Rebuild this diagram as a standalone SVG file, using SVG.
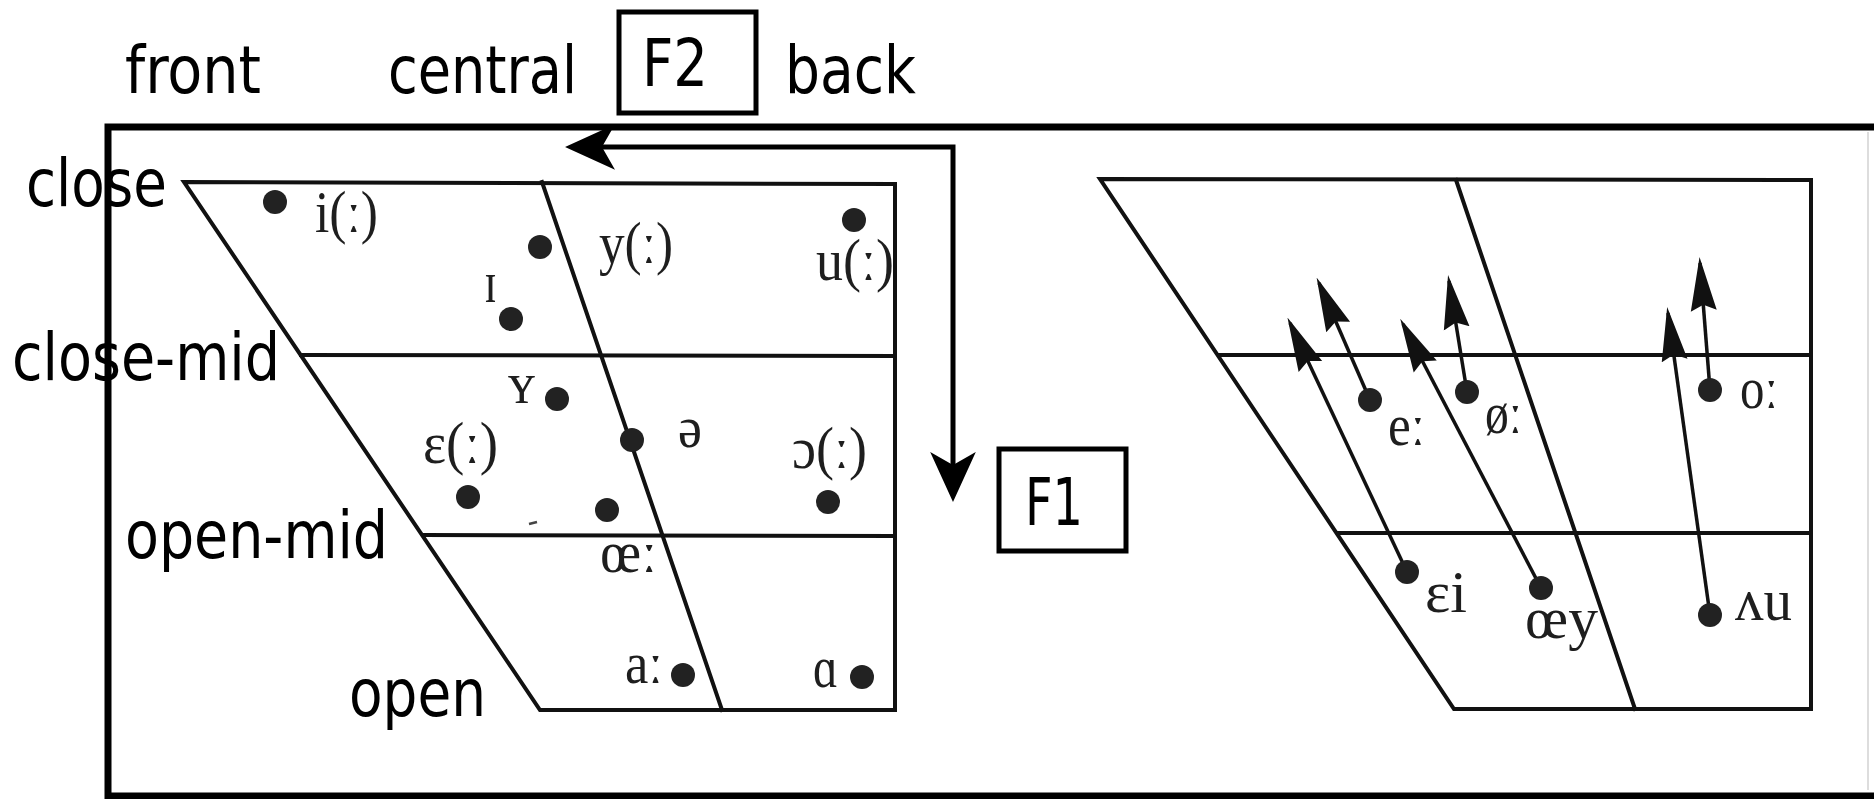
<svg xmlns="http://www.w3.org/2000/svg" width="1874" height="799" viewBox="0 0 1874 799">
<style>
.sans{font-family:"DejaVu Sans Condensed","DejaVu Sans",sans-serif;font-size:65px;fill:#000}
.ipa{font-family:"Liberation Serif","DejaVu Serif",serif;font-size:60px;fill:#1e1e1e}
.grid{stroke:#111;stroke-width:4;fill:none;stroke-linecap:square}
.dot{fill:#222}
.box{fill:none;stroke:#000;stroke-width:5}
.dip{stroke:#111;stroke-width:3.5;fill:none}
.fa{stroke:#000;stroke-width:5;fill:none}
</style>
<defs>
<marker id="big" markerUnits="userSpaceOnUse" markerWidth="50" markerHeight="50" viewBox="0 -22 46 44" refX="12" refY="0" orient="auto-start-reverse">
<path d="M46,0 L0,-21 L12,0 L0,21 Z" fill="#000"/>
</marker>
<marker id="small" markerUnits="userSpaceOnUse" markerWidth="54" markerHeight="30" viewBox="0 -14 54 28" refX="48" refY="0" orient="auto">
<path d="M54,0 L0,-13 L6,0 L0,13 Z" fill="#111"/>
</marker>
</defs>
<rect width="1874" height="799" fill="#fff"/>
<rect x="108" y="127" width="1800" height="669" fill="none" stroke="#000" stroke-width="7"/>
<line x1="1868" y1="132" x2="1868" y2="790" stroke="#ddd" stroke-width="2"/>

<g id="axis-labels">
<text class="sans" x="125" y="93" textLength="136" lengthAdjust="spacingAndGlyphs">front</text>
<text class="sans" x="388" y="93" textLength="189" lengthAdjust="spacingAndGlyphs">central</text>
<text class="sans" x="785" y="93" textLength="131" lengthAdjust="spacingAndGlyphs">back</text>
<text class="sans" x="26" y="206" textLength="141" lengthAdjust="spacingAndGlyphs">close</text>
<text class="sans" x="12" y="380" textLength="268" lengthAdjust="spacingAndGlyphs">close-mid</text>
<text class="sans" x="125" y="558" textLength="263" lengthAdjust="spacingAndGlyphs">open-mid</text>
<text class="sans" x="349" y="716" textLength="137" lengthAdjust="spacingAndGlyphs">open</text>
</g>

<g id="F2">
<rect class="box" x="619" y="12" width="137" height="101"/>
<text class="sans" x="642" y="86" textLength="66" lengthAdjust="spacingAndGlyphs">F2</text>
</g>
<g id="F1">
<rect class="box" x="999" y="449" width="127" height="102"/>
<text class="sans" x="1025" y="525" textLength="58" lengthAdjust="spacingAndGlyphs">F1</text>
</g>

<g id="connectors">
<path class="fa" d="M602,147 L953,147 L953,465" marker-start="url(#big)" marker-end="url(#big)"/>
</g>

<g id="chart-left">
<path class="grid" d="M184,182 L895,184 L895,710 L540,710 Z"/>
<line class="grid" x1="301" y1="355" x2="895" y2="356"/>
<line class="grid" x1="424" y1="535" x2="893" y2="536"/>
<line class="grid" x1="542" y1="182" x2="722" y2="710"/>
<circle class="dot" cx="275" cy="202" r="12"/>
<circle class="dot" cx="540" cy="247" r="12"/>
<circle class="dot" cx="511" cy="319" r="12"/>
<circle class="dot" cx="854" cy="220" r="12"/>
<circle class="dot" cx="557" cy="399" r="12"/>
<circle class="dot" cx="632" cy="440" r="12"/>
<circle class="dot" cx="468" cy="497" r="12"/>
<circle class="dot" cx="607" cy="510" r="12"/>
<circle class="dot" cx="828" cy="502" r="12"/>
<circle class="dot" cx="683" cy="675" r="12"/>
<circle class="dot" cx="862" cy="677" r="12"/>
<line x1="529" y1="524" x2="537" y2="522" stroke="#444" stroke-width="2.5"/>
<text class="ipa" x="315" y="232" textLength="63" lengthAdjust="spacingAndGlyphs">i(ː)</text>
<text class="ipa" x="599" y="263" textLength="74" lengthAdjust="spacingAndGlyphs">y(ː)</text>
<text class="ipa" x="816" y="280" textLength="78" lengthAdjust="spacingAndGlyphs">u(ː)</text>
<text class="ipa" x="484" y="302" textLength="13" lengthAdjust="spacingAndGlyphs">ɪ</text>
<text class="ipa" x="508" y="403" textLength="27" lengthAdjust="spacingAndGlyphs">ʏ</text>
<text class="ipa" x="678" y="447" textLength="24" lengthAdjust="spacingAndGlyphs">ə</text>
<text class="ipa" x="423" y="463" textLength="75" lengthAdjust="spacingAndGlyphs">ɛ(ː)</text>
<text class="ipa" x="792" y="468" textLength="75" lengthAdjust="spacingAndGlyphs">ɔ(ː)</text>
<text class="ipa" x="600" y="572" textLength="57" lengthAdjust="spacingAndGlyphs">œː</text>
<text class="ipa" x="625" y="683" textLength="38" lengthAdjust="spacingAndGlyphs">aː</text>
<text class="ipa" x="813" y="687" textLength="25" lengthAdjust="spacingAndGlyphs">ɑ</text>
</g>

<g id="chart-right">
<path class="grid" d="M1100,179 L1811,180 L1811,709 L1454,709 Z"/>
<line class="grid" x1="1219" y1="355" x2="1811" y2="355"/>
<line class="grid" x1="1339" y1="533" x2="1811" y2="533"/>
<line class="grid" x1="1456" y1="180" x2="1635" y2="709"/>
<line class="dip" x1="1407" y1="572" x2="1290" y2="323" marker-end="url(#small)"/>
<line class="dip" x1="1370" y1="400" x2="1319" y2="283" marker-end="url(#small)"/>
<line class="dip" x1="1541" y1="588" x2="1403" y2="324" marker-end="url(#small)"/>
<line class="dip" x1="1467" y1="392" x2="1449" y2="281" marker-end="url(#small)"/>
<line class="dip" x1="1710" y1="615" x2="1668" y2="313" marker-end="url(#small)"/>
<line class="dip" x1="1710" y1="390" x2="1700" y2="263" marker-end="url(#small)"/>
<circle class="dot" cx="1370" cy="400" r="12"/>
<circle class="dot" cx="1467" cy="392" r="12"/>
<circle class="dot" cx="1710" cy="390" r="12"/>
<circle class="dot" cx="1407" cy="572" r="12"/>
<circle class="dot" cx="1541" cy="588" r="12"/>
<circle class="dot" cx="1710" cy="615" r="12"/>
<text class="ipa" x="1388" y="445" textLength="37" lengthAdjust="spacingAndGlyphs">eː</text>
<text class="ipa" x="1485" y="433" textLength="37" lengthAdjust="spacingAndGlyphs">øː</text>
<text class="ipa" x="1740" y="408" textLength="38" lengthAdjust="spacingAndGlyphs">oː</text>
<text class="ipa" x="1425" y="612" textLength="42" lengthAdjust="spacingAndGlyphs">ɛi</text>
<text class="ipa" x="1525" y="638" textLength="73" lengthAdjust="spacingAndGlyphs">œy</text>
<text class="ipa" x="1735" y="620" textLength="57" lengthAdjust="spacingAndGlyphs">ʌu</text>
</g>
</svg>
